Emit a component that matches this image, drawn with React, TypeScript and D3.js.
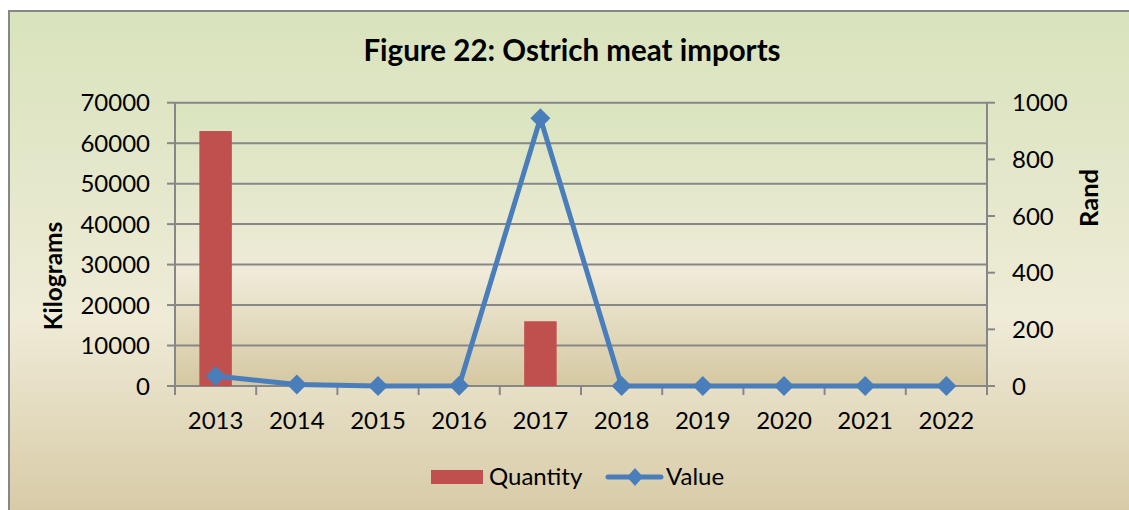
import React from "react";
import * as d3 from "d3";

const years = ["2013", "2014", "2015", "2016", "2017", "2018", "2019", "2020", "2021", "2022"];
const quantity = [63000, 0, 0, 0, 16000, 0, 0, 0, 0, 0];
const value = [35, 5, 0, 1, 945, 0, 0, 0, 0, 0];
const leftTicks = [0, 10000, 20000, 30000, 40000, 50000, 60000, 70000];
const rightTicks = [0, 200, 400, 600, 800, 1000];

const W = 1129;
const H = 510;
const plot = { left: 175, right: 987, top: 102.7, bottom: 386 };
const FONT = "Lato, 'Open Sans', sans-serif";
const GRID = "#878787";
const BAR = "#c0504d";
const LINE = "#4a7ebb";
const FS = 24;

export default function App() {
  const x = d3.scaleBand().domain(years).range([plot.left, plot.right]).paddingInner(0.6).paddingOuter(0.3);
  const xb = d3.scaleBand().domain(years).range([plot.left, plot.right]);
  const yL = d3.scaleLinear().domain([0, 70000]).range([plot.bottom, plot.top]);
  const yR = d3.scaleLinear().domain([0, 1000]).range([plot.bottom, plot.top]);
  const cx = (d: string) => (xb(d) as number) + xb.bandwidth() / 2;
  const line = d3.line<number>().x((_, i) => cx(years[i])).y((v) => yR(v));
  const diamond = (px: number, py: number, rx: number, ry: number) =>
    `M${px},${py - ry}L${px + rx},${py}L${px},${py + ry}L${px - rx},${py}Z`;

  return (
    <svg width={W} height={H} style={{ position: "absolute", left: 0, top: 0 }}>
      <defs>
        <linearGradient id="bg" x1="0" y1="0" x2="0" y2="1">
          <stop offset="0" stopColor="#d8e3bc" />
          <stop offset="0.58" stopColor="#efebd7" />
          <stop offset="1" stopColor="#d4c6a0" />
        </linearGradient>
        <linearGradient id="pbg" x1="0" y1="0" x2="0" y2="1">
          <stop offset="0" stopColor="#d9e4be" />
          <stop offset="0.6" stopColor="#efebd8" />
          <stop offset="1" stopColor="#d5c8a2" />
        </linearGradient>
      </defs>
      <rect x={0} y={0} width={W} height={H} fill="#fff" />
      <rect x={9} y={11} width={W + 20} height={H + 20} fill="url(#bg)" stroke="#878787" strokeWidth={2} />
      <rect x={plot.left} y={plot.top} width={plot.right - plot.left} height={plot.bottom - plot.top} fill="url(#pbg)" />

      <text x={572} y={61} textAnchor="middle" fontFamily={FONT} fontWeight="bold" fontSize={29.5} fill="#000">
        Figure 22: Ostrich meat imports
      </text>

      {leftTicks.map((t) => (
        <line key={"g" + t} x1={plot.left} x2={plot.right} y1={yL(t)} y2={yL(t)} stroke={GRID} strokeWidth={2} />
      ))}
      <line x1={plot.left} x2={plot.left} y1={plot.top} y2={plot.bottom + 8} stroke={GRID} strokeWidth={2} />
      {leftTicks.map((t) => (
        <g key={"l" + t}>
          <line x1={plot.left - 8} x2={plot.left} y1={yL(t)} y2={yL(t)} stroke={GRID} strokeWidth={2} />
          <text x={150} y={yL(t) + 8.5} textAnchor="end" fontFamily={FONT} fontSize={FS} fill="#000">
            {t}
          </text>
        </g>
      ))}
      <line x1={plot.right} x2={plot.right} y1={plot.top} y2={plot.bottom + 8} stroke={GRID} strokeWidth={2} />
      {rightTicks.map((t) => (
        <g key={"r" + t}>
          <line x1={plot.right} x2={plot.right + 8} y1={yR(t)} y2={yR(t)} stroke={GRID} strokeWidth={2} />
          <text x={1012} y={yR(t) + 8.5} textAnchor="start" fontFamily={FONT} fontSize={FS} fill="#000">
            {t}
          </text>
        </g>
      ))}
      {years.map((y) => (
        <line key={"xt" + y} x1={xb(y) as number} x2={xb(y) as number} y1={plot.bottom} y2={plot.bottom + 9} stroke={GRID} strokeWidth={2} />
      ))}
      <line x1={plot.right} x2={plot.right} y1={plot.bottom} y2={plot.bottom + 9} stroke={GRID} strokeWidth={2} />
      {years.map((y) => (
        <text key={"xl" + y} x={cx(y)} y={429} textAnchor="middle" fontFamily={FONT} fontSize={FS} fill="#000">
          {y}
        </text>
      ))}

      <text transform={`translate(62,276) rotate(-90)`} textAnchor="middle" fontFamily={FONT} fontWeight="bold" fontSize={24.5} fill="#000">
        Kilograms
      </text>
      <text transform={`translate(1098,198) rotate(-90)`} textAnchor="middle" fontFamily={FONT} fontWeight="bold" fontSize={25.5} fill="#000">
        Rand
      </text>

      {quantity.map((q, i) =>
        q > 0 ? (
          <rect key={"b" + i} x={x(years[i]) as number} y={yL(q)} width={x.bandwidth()} height={plot.bottom - yL(q)} fill={BAR} />
        ) : null
      )}

      <path d={line(value) as string} fill="none" stroke={LINE} strokeWidth={5} strokeLinejoin="round" />
      {value.map((v, i) => (
        <path key={"m" + i} d={diamond(cx(years[i]), yR(v), 10, 10)} fill={LINE} />
      ))}

      <rect x={431} y={470} width={52} height={14} fill={BAR} />
      <text x={489} y={485} fontFamily={FONT} fontSize={FS} fill="#000">Quantity</text>
      <line x1={608} x2={661} y1={477} y2={477} stroke={LINE} strokeWidth={5} strokeLinecap="round" />
      <path d={diamond(635, 477, 8, 9)} fill={LINE} />
      <text x={666} y={485} fontFamily={FONT} fontSize={FS} fill="#000">Value</text>
    </svg>
  );
}
